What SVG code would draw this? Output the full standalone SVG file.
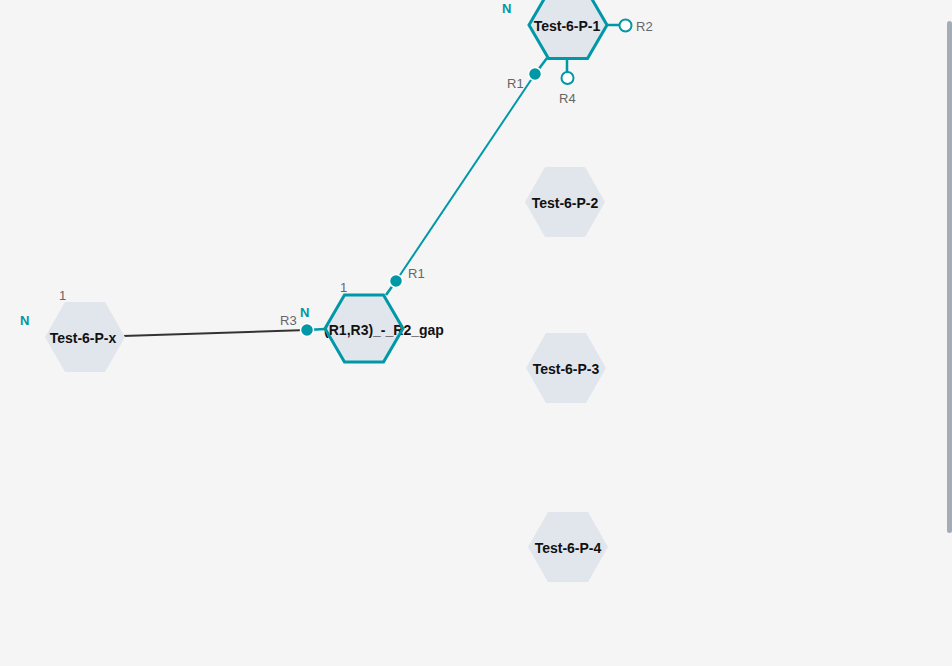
<svg xmlns="http://www.w3.org/2000/svg" width="952" height="666" viewBox="0 0 952 666">
<defs>
<style>
.hex{fill:#e1e6ed;stroke:none}
.hexs{fill:none;stroke:#0097a7;stroke-width:3;stroke-linejoin:miter}
.lbl{font-family:"Liberation Sans",Arial,sans-serif;font-weight:bold;font-size:14px;fill:#111;text-anchor:middle}
.n{font-family:"Liberation Sans",Arial,sans-serif;font-weight:bold;font-size:13px;fill:#0097a7}
.g{font-family:"Liberation Sans",Arial,sans-serif;font-size:13px;fill:#666}
.pl{stroke:#0097a7;stroke-width:2.5}
.pf{fill:#0097a7;stroke:#fff;stroke-width:1.5}
.ph{fill:#fff;stroke:#0097a7;stroke-width:2}
</style>
</defs>
<rect width="952" height="666" fill="#f5f5f5"/>
<rect x="947" y="21" width="5" height="512" rx="2.5" fill="#a3adb8"/>
<g id="connectors">
<line x1="396" y1="281" x2="535" y2="74" stroke="#0097a7" stroke-width="2"/>
<line x1="123" y1="336" x2="307" y2="330" stroke="#333" stroke-width="2"/>
</g>
<g id="node-px">
<polygon class="hex" points="45,337 65,302 105,302 125,337 105,372 65,372"/>
<text class="lbl" x="83" y="343">Test-6-P-x</text>
<text class="n" x="20" y="325">N</text>
<text class="g" x="59" y="300">1</text>
</g>
<g id="node-gap">
<line class="pl" x1="307" y1="330" x2="325" y2="329"/>
<line class="pl" x1="396" y1="281" x2="386" y2="295"/>
<polygon class="hex" points="325,328.5 344.5,295 383.5,295 403,328.5 383.5,362 344.5,362"/>
<text class="lbl" x="384" y="335">(R1,R3)_-_R2_gap</text>
<polygon class="hexs" points="325,328.5 344.5,295 383.5,295 403,328.5 383.5,362 344.5,362"/>
<circle class="pf" cx="307" cy="330" r="6.5"/>
<circle class="pf" cx="396" cy="281" r="6.5"/>
<text class="n" x="300" y="317">N</text>
<text class="g" x="340" y="292">1</text>
<text class="g" x="280" y="325">R3</text>
<text class="g" x="408" y="278">R1</text>
</g>
<g id="node-p1">
<line class="pl" x1="535" y1="74" x2="547" y2="58"/>
<line class="pl" x1="606" y1="25" x2="625" y2="25"/>
<line class="pl" x1="567" y1="58" x2="567" y2="78"/>
<polygon class="hex" points="529,25 548.5,-8.5 587.5,-8.5 607,25 587.5,58.5 548.5,58.5"/>
<text class="lbl" x="567" y="31">Test-6-P-1</text>
<polygon class="hexs" points="529,25 548.5,-8.5 587.5,-8.5 607,25 587.5,58.5 548.5,58.5"/>
<circle class="pf" cx="535" cy="74" r="6.5"/>
<circle class="ph" cx="625.5" cy="25.5" r="6"/>
<circle class="ph" cx="567.5" cy="78" r="6"/>
<text class="n" x="502" y="13">N</text>
<text class="g" x="507" y="88">R1</text>
<text class="g" x="636" y="31">R2</text>
<text class="g" x="559" y="103">R4</text>
</g>
<g id="node-p2">
<polygon class="hex" points="525,202 545,167 585,167 605,202 585,237 545,237"/>
<text class="lbl" x="565" y="208">Test-6-P-2</text>
</g>
<g id="node-p3">
<polygon class="hex" points="526,368 546,333 586,333 606,368 586,403 546,403"/>
<text class="lbl" x="566" y="374">Test-6-P-3</text>
</g>
<g id="node-p4">
<polygon class="hex" points="528,547 548,512 588,512 608,547 588,582 548,582"/>
<text class="lbl" x="568" y="553">Test-6-P-4</text>
</g>
</svg>
